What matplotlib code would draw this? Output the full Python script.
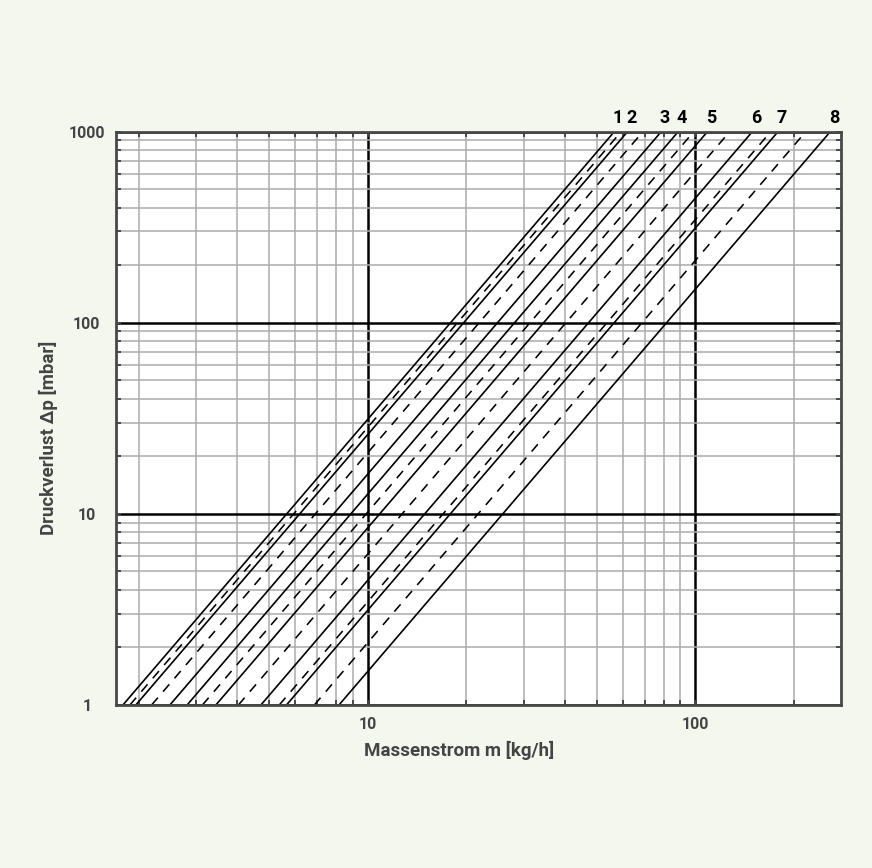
"""
plot.py
=======
Druckverlust-Diagramm: pressure loss over mass flow for eight nominal
sizes (solid, labelled 1-8) plus intermediate sizes (dashed).

Writes ``out.png`` in the working directory.
"""
from __future__ import annotations

import matplotlib
matplotlib.use("Agg")  # non-interactive backend
import matplotlib.pyplot as plt
import matplotlib.ticker as ticker

# ---------------------------------------------------------------------------
# Data
# ---------------------------------------------------------------------------
# mass flow [kg/h] where each line crosses 1 mbar and 1000 mbar
SOLID_NAMES = ["1", "2", "3", "4", "5", "6", "7", "8"]
SOLID_M_AT_1 = [1.79, 1.96, 2.49, 2.81, 3.44, 4.72, 5.65, 8.17]
SOLID_M_AT_1000 = [56.6, 62.1, 78.7, 88.7, 108.9, 149.3, 178.8, 258.2]

DASHED_M_AT_1 = [1.88, 2.19, 3.13, 4.03, 5.37, 6.87]
DASHED_M_AT_1000 = [59.4, 69.2, 98.9, 127.3, 169.9, 217.3]

P_ENDS = [1, 1000]  # mbar

X_TICKS = [10, 100]
X_TICK_LABELS = ["10", "100"]
Y_TICKS = [1, 10, 100, 1000]
Y_TICK_LABELS = ["1", "10", "100", "1000"]

X_LIMITS = (1.705, 278)
Y_LIMITS = (1, 1000)

# ---------------------------------------------------------------------------
# Style
# ---------------------------------------------------------------------------
BG = "#f4f7ee"
TEXT_GREY = "#444444"
SPINE_GREY = "#484848"
MINOR_GRID = "#ababab"
FONT = ["Roboto", "DejaVu Sans"]

plt.rcParams["font.family"] = FONT
plt.rcParams["font.weight"] = "bold"


def _style_axes(ax) -> None:
    ax.set_xscale("log")
    ax.set_yscale("log")
    ax.set_xlim(*X_LIMITS)
    ax.set_ylim(*Y_LIMITS)

    ax.set_xticks(X_TICKS, labels=X_TICK_LABELS)
    ax.set_yticks(Y_TICKS, labels=Y_TICK_LABELS)
    ax.xaxis.set_minor_locator(ticker.LogLocator(base=10, subs=range(2, 10), numticks=20))
    ax.yaxis.set_minor_locator(ticker.LogLocator(base=10, subs=range(2, 10), numticks=20))
    ax.xaxis.set_minor_formatter(ticker.NullFormatter())
    ax.yaxis.set_minor_formatter(ticker.NullFormatter())

    ax.grid(which="minor", color=MINOR_GRID, linewidth=1.1, zorder=1)
    ax.grid(which="major", color="black", linewidth=1.8, zorder=1)
    ax.set_axisbelow(True)

    ax.tick_params(which="both", direction="in", top=True, right=True,
                   color=SPINE_GREY, width=1.4, length=3.5)
    ax.tick_params(axis="x", which="major", pad=9, labelsize=11.5, labelcolor=TEXT_GREY)
    ax.tick_params(axis="y", which="major", pad=21, labelsize=11.5, labelcolor=TEXT_GREY)
    for lab in ax.get_yticklabels():
        lab.set_horizontalalignment("center")
        lab.set_fontweight("bold")
    for lab in ax.get_xticklabels():
        lab.set_fontweight("bold")

    for spine in ax.spines.values():
        spine.set_color(SPINE_GREY)
        spine.set_linewidth(2.0)
        spine.set_zorder(5)
    ax.set_facecolor("white")


def main() -> None:
    fig = plt.figure(figsize=(8.72, 8.68), dpi=100)
    fig.patch.set_facecolor(BG)
    ax = fig.add_axes([0.1330, 0.1878, 0.8314, 0.6607])
    _style_axes(ax)

    for m1, m1000 in zip(DASHED_M_AT_1, DASHED_M_AT_1000):
        ax.plot([m1, m1000], P_ENDS, color="black", linewidth=1.15,
                linestyle=(0, (6, 5)), zorder=3)

    for name, m1, m1000 in zip(SOLID_NAMES, SOLID_M_AT_1, SOLID_M_AT_1000):
        ax.plot([m1, m1000], P_ENDS, color="black", linewidth=1.2, zorder=3)
        ax.annotate(name, xy=(m1000, P_ENDS[1]), xytext=(2.5, 3),
                    textcoords="offset points", ha="center", va="bottom",
                    fontsize=13, fontweight="bold", color="black",
                    annotation_clip=False)

    fig.text(459 / 872, 1 - 750 / 868, "Massenstrom m [kg/h]", ha="center",
             va="center", fontsize=13.5, fontweight="bold", color=TEXT_GREY)
    fig.text(48 / 872, 1 - 438 / 868, "Druckverlust \u0394p [mbar]", ha="center",
             va="center", rotation=90, fontsize=13.5, fontweight="bold",
             color=TEXT_GREY)

    fig.savefig("out.png", dpi=100, facecolor=fig.get_facecolor())
    plt.close(fig)


if __name__ == "__main__":
    main()
